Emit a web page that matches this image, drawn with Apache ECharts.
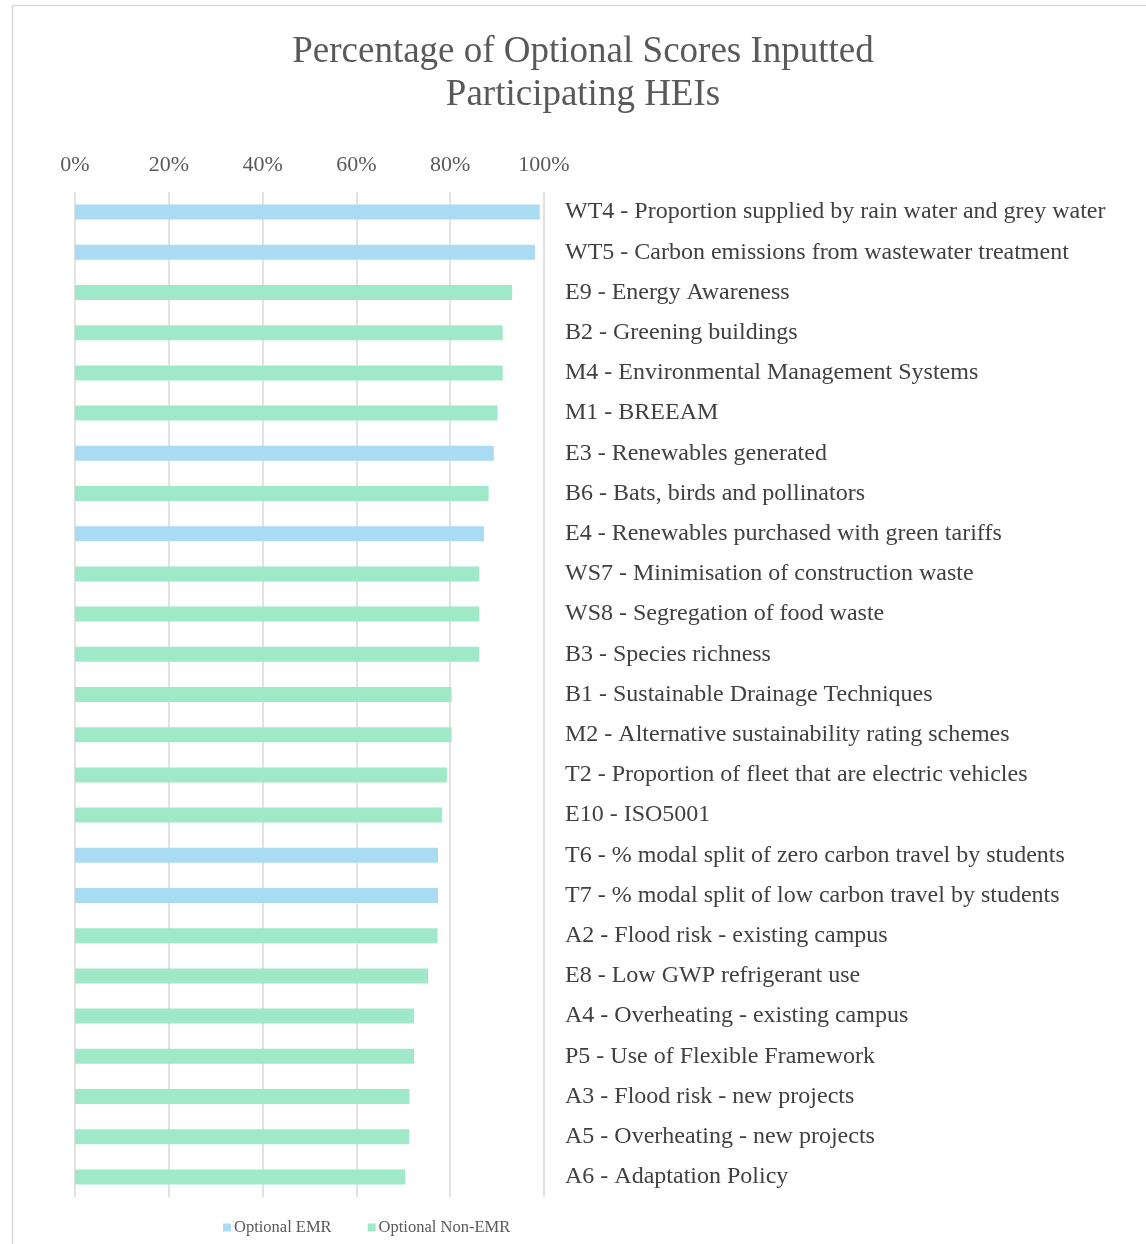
<!DOCTYPE html>
<html>
<head>
<meta charset="utf-8">
<script src="https://cdn.jsdelivr.net/npm/echarts@6/dist/echarts.min.js"></script>
<style>
  html, body { margin: 0; padding: 0; background: #fff; }
  #chart { width: 1146px; height: 1244px; }
</style>
</head>
<body>
<div id="chart"></div>
<script>
// Indicators, top to bottom
const categories = [
  'WT4 - Proportion supplied by rain water and grey water',
  'WT5 - Carbon emissions from wastewater treatment',
  'E9 - Energy Awareness',
  'B2 - Greening buildings',
  'M4 - Environmental Management Systems',
  'M1 - BREEAM',
  'E3 - Renewables generated',
  'B6 - Bats, birds and pollinators',
  'E4 - Renewables purchased with green tariffs',
  'WS7 - Minimisation of construction waste',
  'WS8 - Segregation of food waste',
  'B3 - Species richness',
  'B1 - Sustainable Drainage Techniques',
  'M2 - Alternative sustainability rating schemes',
  'T2 - Proportion of fleet that are electric vehicles',
  'E10 - ISO5001',
  'T6 - % modal split of zero carbon travel by students',
  'T7 - % modal split of low carbon travel by students',
  'A2 - Flood risk - existing campus',
  'E8 - Low GWP refrigerant use',
  'A4 - Overheating - existing campus',
  'P5 - Use of Flexible Framework',
  'A3 - Flood risk - new projects',
  'A5 - Overheating - new projects',
  'A6 - Adaptation Policy'
];

// Share of participating HEIs that inputted each optional score (%)
const percentages = [
  99.1, 98.1, 93.2, 91.2, 91.2, 90.1, 89.3, 88.2, 87.2, 86.2, 86.2, 86.2,
  80.3, 80.3, 79.3, 78.3, 77.4, 77.4, 77.3, 75.3, 72.3, 72.3, 71.3, 71.3, 70.4
];

// true = EMR indicator, false = non-EMR indicator
const isEMR = [
  true, true, false, false, false, false, true, false, true, false, false, false,
  false, false, false, false, true, true, false, false, false, false, false, false, false
];

const seriesNames = ['Optional EMR', 'Optional Non-EMR'];
const xTicks = [0, 20, 40, 60, 80, 100];

const emrData = percentages.map((v, i) => (isEMR[i] ? v : null));
const nonEmrData = percentages.map((v, i) => (isEMR[i] ? null : v));

const serif = '"Liberation Serif", "DejaVu Serif", serif';
const chart = echarts.init(document.getElementById('chart'), null, { renderer: 'canvas' });

chart.setOption({
  animation: false,
  backgroundColor: '#ffffff',
  title: {
    text: 'Percentage of Optional Scores Inputted\nParticipating HEIs',
    left: 578,
    top: 26,
    textAlign: 'center',
    textStyle: {
      fontFamily: serif,
      fontSize: 37,
      fontWeight: 'normal',
      color: '#595959',
      lineHeight: 43
    }
  },
  legend: {
    left: 218,
    top: 1214,
    itemWidth: 8,
    itemHeight: 8,
    itemGap: 36,
    icon: 'rect',
    textStyle: { fontFamily: serif, fontSize: 16.5, color: '#595959', padding: [0, 0, 0, -2] },
    data: seriesNames
  },
  grid: { left: 75, right: 602, top: 192, bottom: 47, containLabel: false },
  xAxis: {
    type: 'value',
    position: 'top',
    min: xTicks[0],
    max: xTicks[xTicks.length - 1],
    interval: 20,
    axisLine: { show: false },
    axisTick: { show: false },
    splitLine: { show: true, lineStyle: { color: '#d9d9d9', width: 1.5 } },
    axisLabel: {
      fontFamily: serif,
      fontSize: 22,
      color: '#595959',
      margin: 16,
      formatter: v => v + '%'
    }
  },
  yAxis: {
    type: 'category',
    position: 'right',
    inverse: true,
    data: categories,
    axisLine: { show: false },
    axisTick: { show: false },
    axisLabel: {
      fontFamily: serif,
      fontSize: 24,
      color: '#404040',
      margin: 21,
      align: 'left',
      padding: [4, 0, 0, 0]
    }
  },
  series: [
    {
      name: seriesNames[0],
      type: 'bar',
      stack: 'share',
      data: emrData,
      barWidth: 15,
      itemStyle: { color: '#a9dcf3' }
    },
    {
      name: seriesNames[1],
      type: 'bar',
      stack: 'share',
      data: nonEmrData,
      barWidth: 15,
      itemStyle: { color: '#a0e9c8' }
    }
  ],
  graphic: [
    {
      type: 'rect',
      silent: true,
      shape: { x: 12.5, y: 5.5, width: 1200, height: 1300 },
      style: { fill: null, stroke: '#d9d9d9', lineWidth: 1.5 }
    }
  ]
});
</script>
</body>
</html>
